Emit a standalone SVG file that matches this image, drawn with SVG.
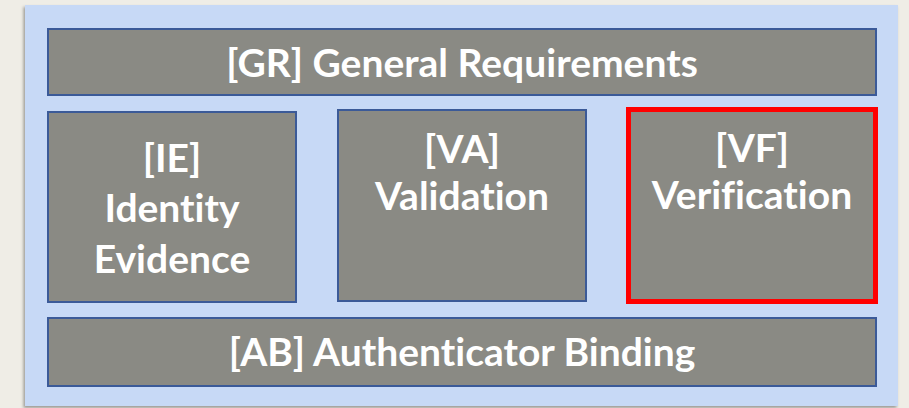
<svg xmlns="http://www.w3.org/2000/svg" width="909" height="408" viewBox="0 0 909 408">
<defs>
<filter id="sh" x="-5%" y="-5%" width="110%" height="110%">
<feDropShadow dx="-1.5" dy="2" stdDeviation="1.8" flood-color="#000" flood-opacity="0.35"/>
</filter>
<style>
.box{fill:#8a8a84;stroke:#3b5a98;stroke-width:2}
.sel{fill:#8a8a84;stroke:#ff0000;stroke-width:5}
.t{font-family:"Lato","Open Sans","Liberation Sans",sans-serif;font-weight:bold;font-size:39px;fill:#ffffff;text-anchor:middle;font-variant-ligatures:none}
</style>
</defs>
<rect x="0" y="0" width="909" height="408" fill="#efede6"/>
<rect x="25" y="5" width="873" height="401" fill="#c7d9f6" filter="url(#sh)"/>
<g id="connectors"></g>
<g id="GR">
<rect class="box" x="48" y="29" width="828" height="66"/>
<text class="t" x="462" y="77">[GR] General Requirements</text>
</g>
<g id="IE">
<rect class="box" x="48" y="112" width="248" height="190"/>
<text class="t" x="172" y="172">[IE]</text>
<text class="t" x="172" y="222">Identity</text>
<text class="t" x="172" y="273">Evidence</text>
</g>
<g id="VA">
<rect class="box" x="338" y="110" width="248" height="191"/>
<text class="t" x="462" y="163">[VA]</text>
<text class="t" x="462" y="210">Validation</text>
</g>
<g id="VF">
<rect class="sel" x="628.5" y="109.5" width="247" height="192"/>
<text class="t" x="752" y="162">[VF]</text>
<text class="t" x="752" y="209">Verification</text>
</g>
<g id="AB">
<rect class="box" x="48" y="318" width="828" height="68"/>
<text class="t" x="462" y="366">[AB] Authenticator Binding</text>
</g>
</svg>
